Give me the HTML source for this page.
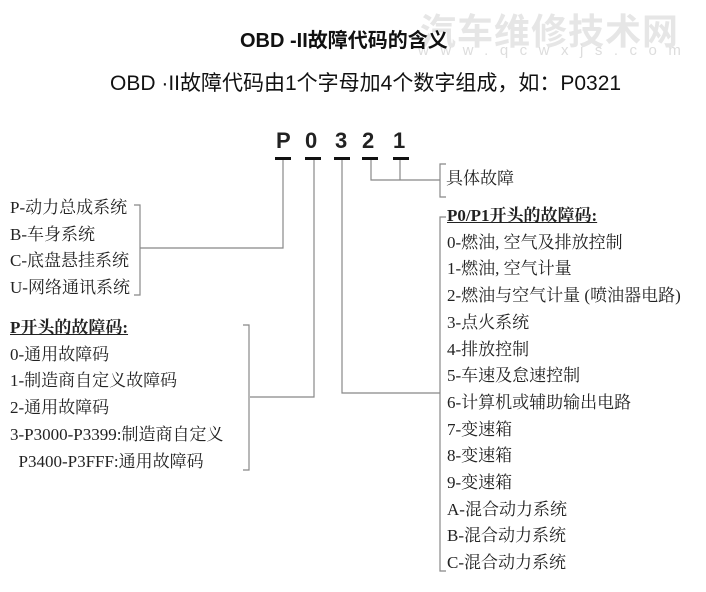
<!DOCTYPE html>
<html><head><meta charset="utf-8"><style>
body{margin:0;width:706px;height:592px;background:#fff;position:relative;overflow:hidden;font-family:"Liberation Serif","Noto Serif CJK SC",serif;color:#222}
.a{position:absolute;white-space:nowrap}
.s{font-family:"Liberation Sans","Noto Sans CJK SC",sans-serif}
.l{font-size:17px;line-height:26.7px}
.d{font-family:"Liberation Sans",sans-serif;font-weight:bold;font-size:22px;top:128px}
</style></head><body>
<div class="a s" style="left:420px;top:3px;font-size:36px;font-weight:bold;color:#e6e6e6;letter-spacing:1px">汽车维修技术网</div>
<div class="a s" style="left:418px;top:42px;font-size:15px;color:#ddd;letter-spacing:11.5px">www.qcwxjs.com</div>
<div class="a s" style="left:240px;top:24px;font-size:20px;font-weight:bold;color:#111">OBD -II故障代码的含义</div>
<div class="a s" style="left:110px;top:67px;font-size:21px;color:#111">OBD ·II故障代码由1个字母加4个数字组成，如：P0321</div>
<div class="a d" style="left:276px">P</div>
<div class="a d" style="left:305px">0</div>
<div class="a d" style="left:335px">3</div>
<div class="a d" style="left:362px">2</div>
<div class="a d" style="left:393px">1</div>
<svg class="a" style="left:0;top:0" width="706" height="592">
<g fill="#111"><rect x="275" y="157" width="16" height="3"/><rect x="305" y="157" width="16" height="3"/><rect x="334" y="157" width="16" height="3"/><rect x="362" y="157" width="16" height="3"/><rect x="393" y="157" width="16" height="3"/></g>
<g stroke="#888" stroke-width="1.2" fill="none">
<polyline points="283,160 283,248 140,248"/>
<polyline points="134,205 140,205 140,295 134,295"/>
<polyline points="314,160 314,397 250,397"/>
<polyline points="243,325 249,325 249,470 243,470"/>
<polyline points="342,160 342,393 440,393"/>
<polyline points="446,217 440,217 440,571 446,571"/>
<polyline points="371,160 371,180 440,180"/>
<line x1="400" y1="160" x2="400" y2="180"/>
<polyline points="446,164 440,164 440,197 446,197"/>
</g></svg>
<div class="a l" style="left:446px;top:166px">具体故障</div>
<div class="a l" style="left:10px;top:195px">P-动力总成系统<br>B-车身系统<br>C-底盘悬挂系统<br>U-网络通讯系统</div>
<div class="a l" style="left:10px;top:315px"><b style="text-decoration:underline">P开头的故障码:</b><br>0-通用故障码<br>1-制造商自定义故障码<br>2-通用故障码<br>3-P3000-P3399:制造商自定义<br>&nbsp;&nbsp;P3400-P3FFF:通用故障码</div>
<div class="a l" style="left:447px;top:203px"><b style="text-decoration:underline">P0/P1开头的故障码:</b><br>0-燃油, 空气及排放控制<br>1-燃油, 空气计量<br>2-燃油与空气计量 (喷油器电路)<br>3-点火系统<br>4-排放控制<br>5-车速及怠速控制<br>6-计算机或辅助输出电路<br>7-变速箱<br>8-变速箱<br>9-变速箱<br>A-混合动力系统<br>B-混合动力系统<br>C-混合动力系统</div>
</body></html>
